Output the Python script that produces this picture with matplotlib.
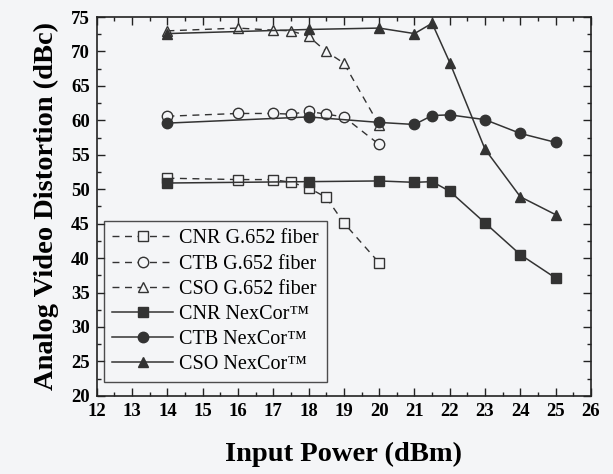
import matplotlib.pyplot as plt
from matplotlib.ticker import MultipleLocator

plt.rcParams['font.family'] = 'Liberation Serif'

# G.652 fiber (dashed, open markers)
x_g652 = [14, 16, 17, 17.5, 18, 18.5, 19, 20]
cnr_g652 = [51.6, 51.4, 51.4, 51.0, 50.2, 48.8, 45.1, 39.3]
ctb_g652 = [60.6, 61.0, 61.0, 60.9, 61.3, 60.9, 60.5, 56.5]
cso_g652 = [73.0, 73.4, 73.1, 73.0, 72.2, 70.0, 68.3, 59.3]

# NexCor fiber (solid, filled markers)
x_nex = [14, 18, 20, 21, 21.5, 22, 23, 24, 25]
cnr_nex = [50.9, 51.1, 51.2, 51.0, 51.1, 49.7, 45.1, 40.5, 37.1]
ctb_nex = [59.6, 60.5, 59.7, 59.4, 60.7, 60.8, 60.1, 58.1, 56.8]
cso_nex = [72.6, 73.2, 73.4, 72.6, 74.1, 68.4, 55.8, 48.9, 46.3]

bg = '#f4f5f7'
fig = plt.figure(figsize=(6.13, 4.74), dpi=100, facecolor=bg)
ax = fig.add_axes([0.158, 0.165, 0.806, 0.799], facecolor=bg)

dash = dict(color='#333333', linestyle=(0, (5, 4)), linewidth=1, markersize=7.5,
            markerfacecolor=bg, markeredgecolor='#333333')
solid = dict(color='#333333', linestyle='-', linewidth=1.1, markersize=7.5,
             markerfacecolor='#333333', markeredgecolor='#333333')

ax.plot(x_g652, cnr_g652, marker='s', label='CNR G.652 fiber', **dash)
ax.plot(x_g652, ctb_g652, marker='o', label='CTB G.652 fiber', **dash)
ax.plot(x_g652, cso_g652, marker='^', label='CSO G.652 fiber', **dash)
ax.plot(x_nex, cnr_nex, marker='s', label='CNR NexCor™', **solid)
ax.plot(x_nex, ctb_nex, marker='o', label='CTB NexCor™', **solid)
ax.plot(x_nex, cso_nex, marker='^', label='CSO NexCor™', **solid)

ax.set_xlim(12, 26)
ax.set_ylim(20, 75)
ax.xaxis.set_major_locator(MultipleLocator(1))
ax.xaxis.set_minor_locator(MultipleLocator(0.5))
ax.yaxis.set_major_locator(MultipleLocator(5))
ax.yaxis.set_minor_locator(MultipleLocator(2.5))
ax.tick_params(which='both', direction='in', top=True, right=True, color='#222222')
ax.tick_params(which='major', length=6, width=1, pad=5)
ax.tick_params(which='minor', length=3, width=1)
for lab in ax.get_xticklabels() + ax.get_yticklabels():
    lab.set_fontsize(13.5)
    lab.set_fontweight('bold')
for s in ax.spines.values():
    s.set_color('#222222')
    s.set_linewidth(1.2)

ax.set_xlabel('Input Power (dBm)', fontsize=20.5, fontweight='bold', labelpad=16)
ax.set_ylabel('Analog Video Distortion (dBc)', fontsize=20.5, fontweight='bold', labelpad=9)

leg = ax.legend(loc='lower left', bbox_to_anchor=(0.003, 0.02), fontsize=14.5,
                frameon=True, fancybox=False, handlelength=3.0, labelspacing=0.3,
                borderpad=0.4, handletextpad=0.3, borderaxespad=0.3, facecolor=bg)
leg.get_frame().set_edgecolor('#222222')
leg.get_frame().set_linewidth(1)

fig.savefig('out.png', dpi=100, facecolor=bg)
